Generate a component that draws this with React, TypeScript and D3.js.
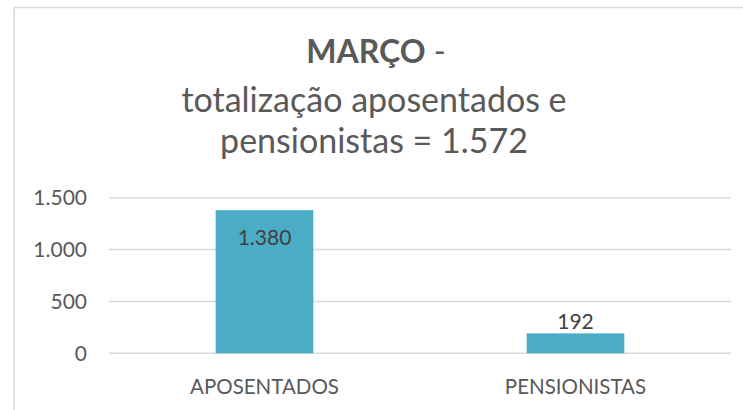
import React from 'react';
import * as d3 from 'd3';

// dados do gráfico (março)
const categories = ['APOSENTADOS', 'PENSIONISTAS'];
const values = [1380, 192];
const yTicks = [0, 500, 1000, 1500];
const yTickLabels = ['0', '500', '1.000', '1.500'];
const titleBold = 'MARÇO';
const titleLines = ['totalização aposentados e', 'pensionistas = 1.572'];

const br = d3.formatLocale({ decimal: ',', thousands: '.', grouping: [3], currency: ['R$', ''] });
const fmt = br.format(',');

const width = 743;
const height = 410;
const font = 'Lato, "Open Sans", sans-serif';

const App = () => {
  const x = d3
    .scaleBand()
    .domain(categories)
    .range([109, 731])
    .paddingInner(0.686)
    .paddingOuter(0.343);

  const y = d3.scaleLinear().domain([0, 1500]).range([353.3, 197.7]);

  const labelY = (v: number) => {
    const top = y(v);
    // Excel joga o rótulo pra dentro da barra quando não cabe em cima
    if (top - 24 < y(1500)) return top + 35;
    return top - 4;
  };

  return (
    <svg
      width={width}
      height={height}
      style={{ position: 'absolute', left: 0, top: 0, background: '#fff' }}
    >
      <rect x={14} y={7.5} width={740} height={420} fill='#fff' stroke='#d9d9d9' strokeWidth={1.5} />

      {/* titulo */}
      <text x={376} y={63} textAnchor='middle' fill='#595959' style={{ fontFamily: font, fontSize: 32 }}>
        <tspan fontWeight='bold'>{titleBold}</tspan>
        <tspan> -</tspan>
      </text>
      {titleLines.map((t, i) => (
        <text
          key={t}
          x={374}
          y={i === 0 ? 111.5 : 153}
          textAnchor='middle'
          fill='#595959'
          style={{ fontFamily: font, fontSize: 34 }}
        >
          {t}
        </text>
      ))}

      {/* grade */}
      {yTicks.map((t, i) => (
        <g key={t}>
          <line x1={109} x2={731} y1={y(t)} y2={y(t)} stroke='#d9d9d9' strokeWidth={1.5} />
          <text
            x={87}
            y={y(t)}
            dy='0.36em'
            textAnchor='end'
            fill='#595959'
            style={{ fontFamily: font, fontSize: 21 }}
          >
            {yTickLabels[i]}
          </text>
        </g>
      ))}

      {/* barras */}
      {categories.map((c, i) => (
        <g key={c}>
          <rect
            x={x(c)}
            y={y(values[i])}
            width={x.bandwidth()}
            height={y(0) - y(values[i])}
            fill='#4bacc6'
          />
          <text
            x={(x(c) as number) + x.bandwidth() / 2}
            y={labelY(values[i])}
            textAnchor='middle'
            fill='#404040'
            style={{ fontFamily: font, fontSize: 21 }}
          >
            {fmt(values[i])}
          </text>
          <text
            x={(x(c) as number) + x.bandwidth() / 2}
            y={393.5}
            textAnchor='middle'
            fill='#595959'
            style={{ fontFamily: font, fontSize: 20.5 }}
          >
            {c}
          </text>
        </g>
      ))}
    </svg>
  );
};

export default App;
